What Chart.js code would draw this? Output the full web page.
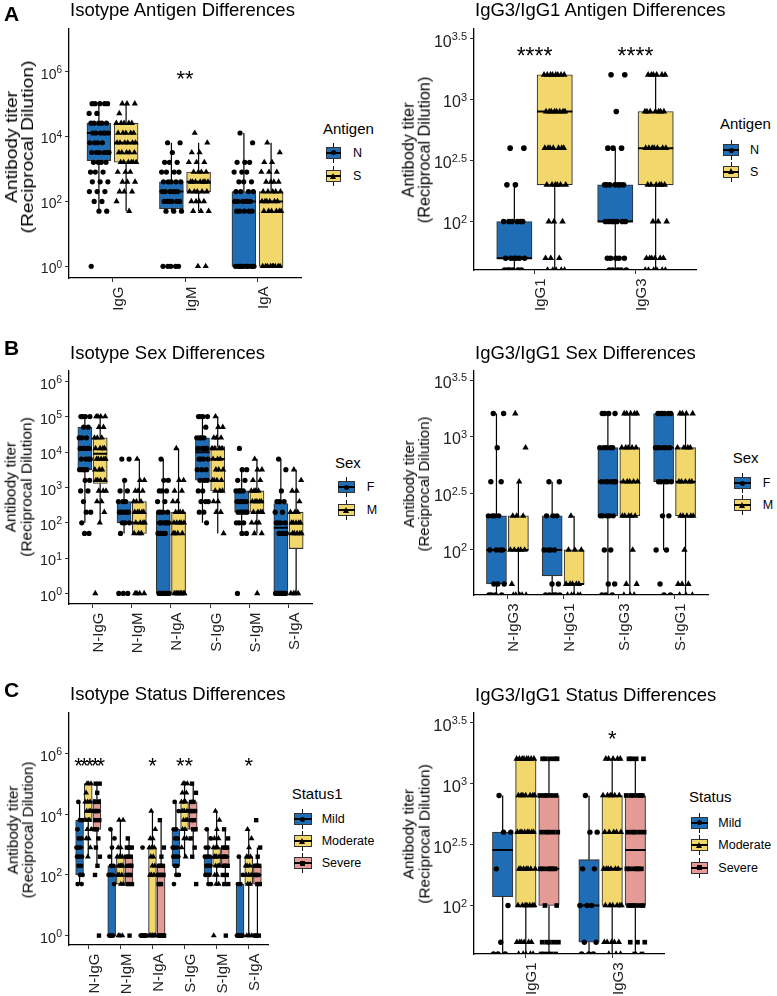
<!DOCTYPE html>
<html>
<head>
<meta charset="utf-8">
<script src="https://cdn.jsdelivr.net/npm/chart.js@4.4.1/dist/chart.umd.min.js"></script>
<style>
  body { margin: 0; background: #fff; }
  #page { position: relative; width: 777px; height: 996px; overflow: hidden;
          font-family: "Liberation Sans", Arial, sans-serif; color: #000; }
  #page canvas { position: absolute; }
  .t { position: absolute; white-space: nowrap; }
  .yt { position: absolute; white-space: nowrap; text-align: center; color: #000; }
  .key { position: absolute; height: 20px; }
  .key .wh { position: absolute; left: 50%; top: 0; bottom: 0; width: 1px; margin-left: -0.5px; background: #111; }
  .key .bx { position: absolute; left: 0; right: 0; top: 4px; height: 12px; border: 1px solid #333; box-sizing: border-box; }
  .key .md { position: absolute; left: 0; right: 0; top: 9px; height: 2px; background: #000; }
  .key .pt { position: absolute; left: 50%; top: 50%; }
  .key .circle { width: 5px; height: 5px; margin: -2.5px 0 0 -2.5px; border-radius: 50%; background: #000; }
  .key .rect { width: 5px; height: 5px; margin: -2.5px 0 0 -2.5px; background: #000; }
  .key .triangle { width: 0; height: 0; margin: -3.5px 0 0 -3.5px; border-left: 3.5px solid transparent;
                   border-right: 3.5px solid transparent; border-bottom: 6px solid #000; }
</style>
</head>
<body>
<div id="page"></div>
<script>
// ---------- data ----------
// box rows are [lower whisker, Q1, median, Q3, upper whisker]; point rows are [titer, number of points]

// A left: isotype by antigen
const isoCats = ['IgG', 'IgM', 'IgA'];
const antigenNames = ['N', 'S'];
const isoTicks = ['0', '2', '4', '6'];
const isoAgBoxN = [[50, 1800, 12800, 25600, 102400], [50, 60, 200, 400, 6400], [1, 1, 100, 200, 12800]];
const isoAgBoxS = [[50, 1600, 6400, 25600, 102400], [50, 200, 400, 800, 6400], [1, 1, 100, 200, 6400]];
const isoAgPtsN = [
  [[102400, 5], [51200, 2], [25600, 5], [12800, 6], [6400, 4], [3200, 6], [1600, 4], [800, 3], [400, 3], [200, 3], [100, 2], [50, 2], [1, 1]],
  [[6400, 2], [3200, 1], [1600, 3], [800, 4], [400, 5], [200, 6], [100, 6], [50, 3], [1, 5]],
  [[12800, 1], [6400, 1], [1600, 3], [800, 3], [400, 3], [200, 4], [100, 6], [50, 5], [1, 10]]
];
const isoAgPtsS = [
  [[102400, 3], [51200, 1], [25600, 5], [12800, 5], [6400, 6], [3200, 5], [1600, 6], [800, 3], [400, 3], [200, 3], [100, 1], [50, 1]],
  [[12800, 1], [6400, 1], [3200, 2], [1600, 3], [800, 4], [400, 7], [200, 5], [100, 4], [50, 3], [1, 2]],
  [[6400, 1], [3200, 1], [1600, 2], [800, 3], [400, 4], [200, 5], [100, 6], [50, 6], [1, 9]]
];
const isoAgSig = ['', '**', ''];
const isoAgSigY = 900000;

// A right: IgG3/IgG1 by antigen
const g31Cats = ['IgG1', 'IgG3'];
const g31Ticks = ['2', '2.5', '3', '3.5'];
const g31AgBoxN = [[40, 50, 50, 100, 200], [40, 100, 100, 200, 400]];
const g31AgBoxS = [[40, 200, 800, 1600, 1600], [40, 200, 400, 800, 1600]];
const g31AgPtsN = [
  [[400, 2], [200, 2], [100, 6], [50, 6], [40, 6]],
  [[1600, 2], [800, 1], [400, 3], [200, 7], [100, 7], [50, 5], [40, 5]]
];
const g31AgPtsS = [
  [[1600, 8], [800, 8], [400, 7], [200, 6], [100, 3], [50, 3], [40, 5]],
  [[1600, 6], [800, 7], [400, 7], [200, 6], [100, 3], [50, 6], [40, 6]]
];
const g31AgSig = ['****', '****'];
const g31AgSigY = 2530;

// B left: isotype by sex
const isoSexCats = ['N-IgG', 'N-IgM', 'N-IgA', 'S-IgG', 'S-IgM', 'S-IgA'];
const sexNames = ['F', 'M'];
const isoSexTicks = ['0', '1', '2', '3', '4', '5', '6'];
const isoSexBoxF = [[100, 3200, 12800, 51200, 102400], [50, 100, 200, 400, 1600], [1, 1, 100, 200, 6400],
                    [100, 1600, 10000, 25600, 102400], [50, 200, 400, 800, 3200], [1, 1, 73, 350, 6400]];
const isoSexBoxM = [[100, 1300, 9000, 25600, 102400], [50, 50, 100, 400, 6400], [1, 1, 100, 200, 12800],
                    [50, 800, 6400, 14500, 102400], [50, 200, 400, 800, 6400], [1, 18.6, 50, 200, 3200]];
const isoSexPtsF = [
  [[102400, 4], [51200, 2], [25600, 3], [12800, 5], [6400, 4], [3200, 4], [1600, 2], [800, 2], [400, 1], [200, 2], [100, 1], [50, 2]],
  [[6400, 2], [1600, 1], [800, 2], [400, 3], [200, 5], [100, 3], [50, 1], [1, 3]],
  [[6400, 1], [1600, 2], [800, 3], [400, 2], [200, 4], [100, 6], [50, 4], [1, 8]],
  [[102400, 4], [51200, 1], [25600, 4], [12800, 4], [6400, 4], [3200, 3], [1600, 3], [800, 2], [400, 3], [200, 2], [100, 1]],
  [[12800, 1], [3200, 2], [1600, 2], [800, 4], [400, 5], [200, 5], [100, 3], [50, 2], [1, 1]],
  [[6400, 1], [3200, 1], [800, 1], [400, 3], [200, 2], [100, 4], [50, 4], [1, 8]]
];
const isoSexPtsM = [
  [[102400, 4], [51200, 2], [25600, 3], [12800, 4], [6400, 5], [3200, 3], [1600, 4], [800, 3], [400, 2], [200, 1], [100, 1], [1, 1]],
  [[6400, 1], [1600, 2], [800, 3], [400, 3], [200, 5], [100, 4], [50, 3], [1, 4]],
  [[12800, 1], [1600, 2], [800, 2], [400, 2], [200, 4], [100, 5], [50, 4], [1, 8]],
  [[102400, 1], [51200, 2], [25600, 3], [12800, 4], [6400, 3], [3200, 3], [1600, 4], [800, 3], [400, 2], [200, 2], [50, 1]],
  [[6400, 1], [3200, 2], [1600, 2], [800, 4], [400, 5], [200, 4], [100, 3], [50, 2], [1, 1]],
  [[3200, 1], [1600, 1], [800, 2], [400, 1], [200, 3], [100, 5], [50, 5], [1, 4]]
];

// B right: IgG3/IgG1 by sex
const g31SexCats = ['N-IgG3', 'N-IgG1', 'S-IgG3', 'S-IgG1'];
const g31SexBoxF = [[40, 50, 100, 200, 1600], [40, 59, 100, 200, 400], [40, 200, 400, 800, 1600], [100, 400, 800, 1600, 1600]];
const g31SexBoxM = [[40, 100, 100, 200, 400], [40, 50, 50, 100, 200], [40, 200, 400, 800, 1600], [40, 200, 400, 800, 1600]];
const g31SexPtsF = [
  [[1600, 2], [800, 1], [400, 2], [200, 4], [100, 4], [50, 3], [40, 4]],
  [[400, 2], [200, 3], [100, 4], [50, 2], [40, 5]],
  [[1600, 4], [800, 5], [400, 6], [200, 5], [100, 2], [50, 2], [40, 3]],
  [[1600, 6], [800, 6], [400, 5], [200, 2], [100, 2], [50, 1], [40, 2]]
];
const g31SexPtsM = [
  [[1600, 1], [800, 1], [400, 1], [200, 3], [100, 5], [50, 1], [40, 5]],
  [[200, 1], [100, 3], [50, 5], [40, 5]],
  [[1600, 5], [800, 5], [400, 5], [200, 5], [100, 1], [50, 2], [40, 3]],
  [[1600, 4], [800, 4], [400, 5], [200, 5], [100, 1], [50, 3], [40, 3]]
];

// C left: isotype by status
const isoStatCats = ['N-IgG', 'N-IgM', 'N-IgA', 'S-IgG', 'S-IgM', 'S-IgA'];
const statusNames = ['Mild', 'Moderate', 'Severe'];
const isoStatBoxMild = [[50, 100, 800, 6400, 25600], [1, 1, 100, 200, 3200], [1, 1, 1, 1, 1],
                        [100, 200, 800, 3200, 25600], [50, 100, 200, 400, 3200], [1, 1, 1, 50, 400]];
const isoStatBoxModerate = [[400, 6400, 25600, 102400, 102400], [50, 50, 200, 400, 6400], [1, 1, 100, 800, 12800],
                            [400, 3200, 12800, 25600, 102400], [50, 200, 400, 800, 12800], [1, 50, 200, 400, 3200]];
const isoStatBoxSevere = [[200, 3200, 12800, 32000, 102400], [50, 50, 200, 400, 1600], [1, 1, 100, 200, 6400],
                          [400, 3200, 12800, 25600, 102400], [50, 200, 400, 800, 3200], [1, 50, 100, 200, 800]];
const isoStatPtsMild = [
  [[25600, 1], [6400, 2], [3200, 1], [1600, 2], [800, 3], [400, 3], [200, 2], [100, 2], [50, 2]],
  [[3200, 1], [1600, 1], [800, 1], [400, 1], [200, 2], [100, 3], [50, 1], [1, 4]],
  [[800, 1], [1, 8]],
  [[25600, 1], [12800, 1], [3200, 2], [1600, 2], [800, 3], [400, 3], [200, 2], [100, 2], [50, 1]],
  [[3200, 1], [1600, 1], [800, 2], [400, 3], [200, 4], [100, 3], [50, 2]],
  [[400, 1], [100, 1], [50, 2], [1, 8]]
];
const isoStatPtsModerate = [
  [[102400, 3], [51200, 1], [25600, 3], [12800, 3], [6400, 3], [3200, 2], [1600, 2], [800, 1], [400, 1]],
  [[6400, 2], [800, 2], [400, 3], [200, 4], [100, 3], [50, 2], [1, 3]],
  [[12800, 1], [3200, 1], [1600, 2], [800, 3], [400, 2], [200, 2], [100, 3], [1, 6]],
  [[102400, 3], [51200, 2], [25600, 3], [12800, 4], [6400, 3], [3200, 2], [1600, 2], [800, 1], [400, 1]],
  [[12800, 1], [6400, 1], [3200, 1], [1600, 2], [800, 3], [400, 4], [200, 3], [100, 2], [50, 2], [1, 1]],
  [[3200, 1], [1600, 1], [800, 1], [400, 3], [200, 3], [100, 3], [50, 2], [1, 3]]
];
const isoStatPtsSevere = [
  [[102400, 2], [51200, 1], [25600, 2], [12800, 3], [6400, 2], [3200, 2], [1600, 1], [800, 1], [400, 1], [200, 1], [100, 1], [1, 1]],
  [[1600, 1], [800, 3], [400, 3], [200, 3], [100, 3], [50, 2], [1, 1]],
  [[6400, 1], [800, 1], [400, 1], [200, 3], [100, 4], [50, 2], [1, 7]],
  [[102400, 1], [51200, 1], [25600, 2], [12800, 3], [6400, 2], [3200, 2], [1600, 1], [800, 1], [400, 1], [50, 1]],
  [[3200, 1], [1600, 1], [800, 3], [400, 3], [200, 3], [100, 2], [50, 2], [1, 1]],
  [[6400, 1], [800, 1], [400, 1], [200, 3], [100, 3], [50, 2], [1, 3]]
];
const isoStatSig = ['*****', '', '*', '**', '', '*'];
const isoStatSigY = 620000;

// C right: IgG3/IgG1 by status
const g31StatCats = ['IgG1', 'IgG3'];
const g31StatBoxMild = [[40, 118, 286, 400, 800], [40, 50, 100, 238, 800]];
const g31StatBoxModerate = [[40, 100, 400, 1600, 1600], [40, 100, 200, 800, 1600]];
const g31StatBoxSevere = [[40, 100, 200, 800, 1600], [40, 100, 286, 800, 1600]];
const g31StatPtsMild = [
  [[800, 1], [400, 2], [200, 1], [100, 1], [50, 1], [40, 3]],
  [[800, 1], [400, 2], [200, 2], [100, 3], [50, 2], [40, 3]]
];
const g31StatPtsModerate = [
  [[1600, 8], [800, 7], [400, 8], [200, 7], [100, 7], [50, 6], [40, 5]],
  [[1600, 5], [800, 6], [400, 5], [200, 6], [100, 6], [50, 5], [40, 3]]
];
const g31StatPtsSevere = [
  [[1600, 5], [800, 5], [400, 5], [200, 6], [100, 2], [50, 5], [40, 5]],
  [[1600, 4], [800, 6], [400, 5], [200, 6], [100, 6], [50, 3], [40, 2]]
];
const g31StatSig = ['', '*'];
const g31StatSigY = 2600;

// ---------- styles ----------
const FONT = '"Liberation Sans", Arial, sans-serif';
const BLUE = '#1f6db4', YELLOW = '#f2d86c', PINK = '#e49b96';
const page = document.getElementById('page');

function addText(x, base, str, px, extra) {
  const d = document.createElement('div');
  d.className = 't';
  d.textContent = str;
  d.style.cssText += `left:${x}px;top:${base - 0.8465 * px}px;font-size:${px}px;line-height:${px}px;` + (extra || '');
  page.appendChild(d);
}

function addYTitle(cx, cy, px, stretch) {
  const d = document.createElement('div');
  d.className = 'yt';
  d.innerHTML = 'Antibody titer<br>(Reciprocal Dilution)';
  d.style.cssText += `left:${cx}px;top:${cy}px;font-size:${px}px;line-height:${px}px;` +
    `transform:translate(-50%,-50%) rotate(-90deg) scaleX(${stretch});`;
  page.appendChild(d);
}

function addLegend(lg, names, groups) {
  addText(lg.x, lg.titleBase, lg.title, 15);
  names.forEach((nm, i) => {
    const cy = lg.keyY[i];
    const k = document.createElement('div');
    k.className = 'key';
    k.style.left = lg.keyX + 'px';
    k.style.top = (cy - 10) + 'px';
    k.style.width = lg.keyW + 'px';
    k.innerHTML = `<div class="wh"></div><div class="bx" style="background:${groups[i].color}"></div>` +
                  `<div class="md"></div><div class="pt ${groups[i].shape}"></div>`;
    page.appendChild(k);
    addText(lg.labelX, cy + 0.358 * 12.5, nm, 12.5);
  });
}

function pointSet(pts, off, jw, shape, r) {
  const data = [];
  pts.forEach((levels, g) => {
    let j = 0;
    levels.forEach(([v, n]) => {
      for (let k = 0; k < n; k++) {
        const u = (0.31 + j * 0.618034) % 1;
        data.push({ x: g + off + (2 * u - 1) * jw, y: v });
        j++;
      }
    });
  });
  return { type: 'scatter', data, pointStyle: shape, pointRadius: r, pointHoverRadius: r,
           backgroundColor: '#000', borderWidth: 0, order: 0 };
}

function boxSets(boxes, off, w, pxW, color) {
  const wh = [], md = [];
  boxes.forEach((b, g) => {
    const x = g + off;
    wh.push({ x, y: b[3] }, { x, y: b[4] }, { x: null, y: null }, { x, y: b[1] }, { x, y: b[0] }, { x: null, y: null });
    md.push({ x: x - w / 2, y: b[2] }, { x: x + w / 2, y: b[2] }, { x: null, y: null });
  });
  return [
    { type: 'bar', data: boxes.map((b, g) => ({ x: g + off, y: [b[1], b[3]] })), backgroundColor: color,
      borderColor: '#333', borderWidth: 1.1, borderSkipped: false, grouped: false, barThickness: pxW, order: 3 },
    { type: 'line', data: wh, borderColor: '#000', borderWidth: 1.2, pointRadius: 0, showLine: true,
      spanGaps: false, fill: false, order: 2 },
    { type: 'line', data: md, borderColor: '#000', borderWidth: 2, pointRadius: 0, showLine: true,
      spanGaps: false, fill: false, order: 1 }
  ];
}

function textPlugin(p) {
  return {
    id: 'panelText',
    afterDraw(chart) {
      const ctx = chart.ctx, a = chart.chartArea, xs = chart.scales.x, ys = chart.scales.y;
      ctx.save();
      ctx.fillStyle = '#222';
      ctx.textBaseline = 'alphabetic';
      ctx.textAlign = 'left';
      p.yTicks.forEach(e => {
        const py = ys.getPixelForValue(Math.pow(10, parseFloat(e)));
        const base = py + 0.36 * p.tickPx + 2;
        ctx.font = `${p.tickPx}px ${FONT}`;
        const wb = ctx.measureText('10').width;
        ctx.font = `${p.expPx}px ${FONT}`;
        const we = ctx.measureText(e).width;
        const right = a.left - 7;
        ctx.font = `${p.tickPx}px ${FONT}`;
        ctx.fillText('10', right - we - wb, base);
        ctx.font = `${p.expPx}px ${FONT}`;
        ctx.fillText(e, right - we, base - 0.4 * p.tickPx);
      });
      ctx.font = `15px ${FONT}`;
      p.cats.forEach((c, i) => {
        const px = xs.getPixelForValue(i);
        ctx.save();
        ctx.translate(px + 0.7 * 15, a.bottom + 8.5);
        ctx.rotate(-Math.PI / 2);
        ctx.textAlign = 'right';
        ctx.fillText(c, 0, 0);
        ctx.restore();
      });
      ctx.fillStyle = '#000';
      ctx.textAlign = 'center';
      ctx.font = `${p.starPx}px ${FONT}`;
      p.sig.forEach((s, i) => {
        if (!s) return;
        ctx.letterSpacing = s.length > 4 ? '-3px' : '0px';
        ctx.fillText(s, xs.getPixelForValue(i), ys.getPixelForValue(p.sigY) + 0.58 * p.starPx);
      });
      ctx.restore();
    }
  };
}

function buildPanel(p) {
  const W = p.R - p.L, H = p.B - p.T;
  const padL = 60, padT = 12, padR = 10, padB = 75;
  const cv = document.createElement('canvas');
  cv.width = W + padL + padR;
  cv.height = H + padT + padB;
  cv.style.left = (p.L - padL) + 'px';
  cv.style.top = (p.T - padT) + 'px';
  page.appendChild(cv);
  const xmin = -0.6, xmax = p.cats.length - 0.4;
  const pxPerUnit = W / (xmax - xmin);
  const datasets = [];
  p.groups.forEach((gr, i) => datasets.push(pointSet(gr.pts, p.offs[i], p.jitter, gr.shape, gr.r)));
  p.groups.forEach((gr, i) => datasets.push(...boxSets(gr.box, p.offs[i], p.boxW, p.boxW * pxPerUnit, gr.color)));
  const axisLook = {
    grid: { display: true, drawOnChartArea: false, drawTicks: true, tickLength: 4, color: '#333', lineWidth: 1, offset: false },
    border: { display: true, color: '#000', width: 1.3 },
    ticks: { display: false }
  };
  new Chart(cv, {
    type: 'scatter',
    data: { datasets },
    options: {
      responsive: false, animation: false, devicePixelRatio: 1, events: [],
      layout: { padding: { top: padT, right: padR, left: 0, bottom: 0 } },
      plugins: { legend: { display: false }, tooltip: { enabled: false } },
      scales: {
        x: Object.assign({ type: 'linear', min: xmin, max: xmax, offset: false,
          afterBuildTicks: s => { s.ticks = p.cats.map((c, i) => ({ value: i })); },
          afterFit: s => { s.height = padB; } }, axisLook),
        y: Object.assign({ type: 'logarithmic', min: p.ymin, max: p.ymax,
          afterBuildTicks: s => { s.ticks = p.yTicks.map(e => ({ value: Math.pow(10, parseFloat(e)) })); },
          afterFit: s => { s.width = padL; } }, axisLook)
      }
    },
    plugins: [textPlugin(p)]
  });
  addText(p.title.x, p.title.base, p.title.text, 18.5);
  if (p.letter) addText(4, p.letter.base, p.letter.text, 21, 'font-weight:bold;');
  addYTitle(p.yt.cx, p.yt.cy, p.yt.px, p.yt.stretch);
  addLegend(p.legend, p.names, p.groups);
}

const shapesAg = (boxN, boxS, ptsN, ptsS, rc, rt) => [
  { box: boxN, pts: ptsN, color: BLUE, shape: 'circle', r: rc },
  { box: boxS, pts: ptsS, color: YELLOW, shape: 'triangle', r: rt }
];
const shapesStat = (b1, b2, b3, p1, p2, p3, rc, rt, rs) => [
  { box: b1, pts: p1, color: BLUE, shape: 'circle', r: rc },
  { box: b2, pts: p2, color: YELLOW, shape: 'triangle', r: rt },
  { box: b3, pts: p3, color: PINK, shape: 'rect', r: rs }
];

const panels = [
  { L: 69, T: 29, R: 301, B: 278, ymin: Math.pow(10, -0.36), ymax: Math.pow(10, 7.31),
    cats: isoCats, yTicks: isoTicks, names: antigenNames, sig: isoAgSig, sigY: isoAgSigY,
    offs: [-0.1875, 0.1875], boxW: 0.33, jitter: 0.14, tickPx: 14, expPx: 10, starPx: 22,
    groups: shapesAg(isoAgBoxN, isoAgBoxS, isoAgPtsN, isoAgPtsS, 2.6, 3.6),
    title: { x: 70, base: 17, text: 'Isotype Antigen Differences' }, letter: { base: 20.7, text: 'A' },
    yt: { cx: 19.5, cy: 147, px: 16, stretch: 1.2 },
    legend: { title: 'Antigen', x: 323, titleBase: 133.3, keyX: 326, keyW: 15, keyY: [152.7, 176], labelX: 353 } },
  { L: 474, T: 29, R: 696, B: 270, ymin: 40, ymax: Math.pow(10, 3.58),
    cats: g31Cats, yTicks: g31Ticks, names: antigenNames, sig: g31AgSig, sigY: g31AgSigY,
    offs: [-0.2, 0.2], boxW: 0.35, jitter: 0.11, tickPx: 16, expPx: 11, starPx: 23,
    groups: shapesAg(g31AgBoxN, g31AgBoxS, g31AgPtsN, g31AgPtsS, 2.8, 3.8),
    title: { x: 475, base: 16.7, text: 'IgG3/IgG1 Antigen Differences' },
    yt: { cx: 416, cy: 150, px: 16.3, stretch: 1 },
    legend: { title: 'Antigen', x: 720, titleBase: 128.5, keyX: 723, keyW: 16, keyY: [150, 171.7], labelX: 750 } },
  { L: 69, T: 371, R: 312, B: 604, ymin: Math.pow(10, -0.3), ymax: Math.pow(10, 6.3),
    cats: isoSexCats, yTicks: isoSexTicks, names: sexNames, sig: [], sigY: 1,
    offs: [-0.195, 0.195], boxW: 0.36, jitter: 0.15, tickPx: 14.5, expPx: 10.5, starPx: 22,
    groups: shapesAg(isoSexBoxF, isoSexBoxM, isoSexPtsF, isoSexPtsM, 2.6, 3.6),
    title: { x: 70, base: 359.3, text: 'Isotype Sex Differences' }, letter: { base: 354.3, text: 'B' },
    yt: { cx: 17.5, cy: 487, px: 15.5, stretch: 1 },
    legend: { title: 'Sex', x: 335, titleBase: 467.5, keyX: 338, keyW: 17, keyY: [487.3, 510], labelX: 366.7 } },
  { L: 474, T: 371, R: 708, B: 595, ymin: 40, ymax: Math.pow(10, 3.58),
    cats: g31SexCats, yTicks: g31Ticks, names: sexNames, sig: [], sigY: 1,
    offs: [-0.197, 0.197], boxW: 0.36, jitter: 0.15, tickPx: 16, expPx: 11, starPx: 22,
    groups: shapesAg(g31SexBoxF, g31SexBoxM, g31SexPtsF, g31SexPtsM, 2.7, 3.7),
    title: { x: 475, base: 359.3, text: 'IgG3/IgG1 Sex Differences' },
    yt: { cx: 416, cy: 484, px: 15, stretch: 1 },
    legend: { title: 'Sex', x: 732.7, titleBase: 463, keyX: 734.3, keyW: 16.5, keyY: [483.3, 505], labelX: 762.7 } },
  { L: 69, T: 713, R: 268, B: 945, ymin: Math.pow(10, -0.31), ymax: Math.pow(10, 7.34),
    cats: isoStatCats, yTicks: isoTicks, names: statusNames, sig: isoStatSig, sigY: isoStatSigY,
    offs: [-0.27, 0, 0.27], boxW: 0.245, jitter: 0.1, tickPx: 14.5, expPx: 10.5, starPx: 22,
    groups: shapesStat(isoStatBoxMild, isoStatBoxModerate, isoStatBoxSevere,
                       isoStatPtsMild, isoStatPtsModerate, isoStatPtsSevere, 2.4, 3.4, 3.1),
    title: { x: 70, base: 701, text: 'Isotype Status Differences' }, letter: { base: 696.7, text: 'C' },
    yt: { cx: 20, cy: 830, px: 15.2, stretch: 1 },
    legend: { title: 'Status1', x: 291.7, titleBase: 798.7, keyX: 294, keyW: 17.7, keyY: [819, 841, 863.3], labelX: 321.7 } },
  { L: 474, T: 713, R: 664, B: 954, ymin: 40, ymax: Math.pow(10, 3.58),
    cats: g31StatCats, yTicks: g31Ticks, names: statusNames, sig: g31StatSig, sigY: g31StatSigY,
    offs: [-0.268, 0, 0.268], boxW: 0.237, jitter: 0.11, tickPx: 16.5, expPx: 11, starPx: 22,
    groups: shapesStat(g31StatBoxMild, g31StatBoxModerate, g31StatBoxSevere,
                       g31StatPtsMild, g31StatPtsModerate, g31StatPtsSevere, 2.7, 3.7, 3.3),
    title: { x: 475, base: 701.7, text: 'IgG3/IgG1 Status Differences' },
    yt: { cx: 416, cy: 834, px: 15.5, stretch: 1 },
    legend: { title: 'Status', x: 689, titleBase: 802, keyX: 690.7, keyW: 17.6, keyY: [822.7, 845.3, 867.7], labelX: 718.3 } }
];

panels.forEach(buildPanel);
</script>
</body>
</html>
